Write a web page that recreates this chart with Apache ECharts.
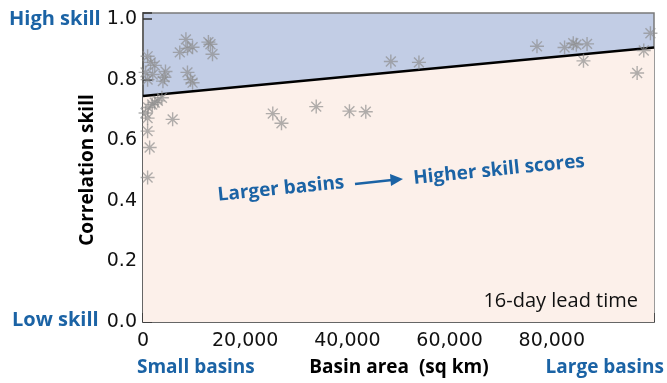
<!DOCTYPE html>
<html>
<head>
<meta charset="utf-8">
<script src="https://cdn.jsdelivr.net/npm/echarts@6/dist/echarts.min.js"></script>
<style>html,body{margin:0;padding:0;background:#fff;}#c{width:667px;height:383px;}</style>
</head>
<body>
<div id="c"></div>
<script>
// Basin area (sq km) and correlation skill for each basin
const basinArea = [
  900, 1500, 2300, 500, 1900, 900, 4400, 4200, 3900, 8400, 7200, 8700, 9700, 12800, 13200, 13600, 8700, 9300, 9700,
  3700, 2900, 2300, 1800, 1000, 500, 900, 5800, 900, 1300, 900,
  25400, 27100, 33900, 40400, 43600, 48500, 54000,
  77100, 82500, 84200, 84800, 86900, 86200, 96700, 98000, 99300
];
const skill = [
  0.877, 0.857, 0.847, 0.824, 0.817, 0.800, 0.827, 0.808, 0.795, 0.933, 0.890, 0.903, 0.907, 0.924, 0.917, 0.884, 0.824, 0.800, 0.790,
  0.740, 0.730, 0.724, 0.718, 0.708, 0.690, 0.673, 0.669, 0.630, 0.576, 0.477,
  0.688, 0.656, 0.711, 0.696, 0.694, 0.860, 0.857,
  0.910, 0.906, 0.920, 0.915, 0.918, 0.862, 0.822, 0.896, 0.953
];
// Fitted trend line end points
const trendArea = [0, 100000];
const trendSkill = [0.746, 0.906];
// Axis ticks
const xTicks = [0, 20000, 40000, 60000, 80000];
const yTicks = [0.0, 0.2, 0.4, 0.6, 0.8, 1.0];

const BLUE = '#1b63a5';
const points = basinArea.map((a, i) => [a, skill[i]]);
const trend = trendArea.map((a, i) => [a, trendSkill[i]]);

const chart = echarts.init(document.getElementById('c'), null, {renderer: 'canvas'});
const numFont = 'DejaVu Sans';
const boldFont = 'Open Sans';

chart.setOption({
  animation: false,
  backgroundColor: '#ffffff',
  grid: {
    left: 143, right: 13, top: 13, bottom: 61,
    show: true, backgroundColor: '#c2cde5', borderColor: '#7a7a7a', borderWidth: 1.5
  },
  xAxis: {
    type: 'value', min: 0, max: 100000, interval: 20000,
    axisLine: {show: true, lineStyle: {color: '#666', width: 2}},
    axisTick: {show: true, inside: true, length: 9, lineStyle: {color: '#333', width: 1.5}},
    axisLabel: {
      margin: 10, fontFamily: numFont, fontSize: 19, color: '#111',
      formatter: v => xTicks.indexOf(v) >= 0 ? v.toLocaleString('en-US') : ''
    },
    splitLine: {show: false}
  },
  yAxis: {
    type: 'value', min: 0, max: 1.02, interval: 0.2,
    axisLine: {show: true, lineStyle: {color: '#666', width: 2}},
    axisTick: {show: true, inside: true, length: 9, lineStyle: {color: '#333', width: 1.5}},
    axisLabel: {
      margin: 6, fontFamily: numFont, fontSize: 19, color: '#111',
      formatter: v => {
        const t = yTicks.find(y => Math.abs(y - v) < 1e-6);
        return t === undefined ? '' : t.toFixed(1);
      }
    },
    splitLine: {show: false}
  },
  series: [
    {
      type: 'line', data: trend, symbol: 'none', z: 2,
      lineStyle: {color: '#000', width: 2.5},
      areaStyle: {color: '#fcf0ea', opacity: 1, origin: 'start'}
    },
    {
      type: 'scatter', data: points, z: 3,
      symbol: 'path://M10,0 L10,20 M0,10 L20,10 M2.93,2.93 L17.07,17.07 M2.93,17.07 L17.07,2.93',
      symbolSize: 14,
      itemStyle: {color: 'rgba(0,0,0,0)', borderColor: 'rgba(140,140,140,0.85)', borderWidth: 1.4}
    }
  ],
  graphic: [
    {type: 'text', z: 100, x: 9, y: 19, style: {text: 'High skill', fill: BLUE, fontFamily: boldFont, fontWeight: 'bold', fontSize: 20, verticalAlign: 'middle'}},
    {type: 'text', z: 100, x: 12, y: 320, style: {text: 'Low skill', fill: BLUE, fontFamily: boldFont, fontWeight: 'bold', fontSize: 20, verticalAlign: 'middle'}},
    {type: 'text', z: 100, x: 88, y: 170, rotation: Math.PI / 2, style: {text: 'Correlation skill', fill: '#000', fontFamily: boldFont, fontWeight: 'bold', fontSize: 19, align: 'center', verticalAlign: 'middle'}},
    {type: 'text', z: 100, x: 137, y: 368, style: {text: 'Small basins', fill: BLUE, fontFamily: boldFont, fontWeight: 'bold', fontSize: 19, verticalAlign: 'middle'}},
    {type: 'text', z: 100, x: 399, y: 368, style: {text: 'Basin area  (sq km)', fill: '#000', fontFamily: boldFont, fontWeight: 'bold', fontSize: 19, align: 'center', verticalAlign: 'middle'}},
    {type: 'text', z: 100, x: 664, y: 368, style: {text: 'Large basins', fill: BLUE, fontFamily: boldFont, fontWeight: 'bold', fontSize: 19, align: 'right', verticalAlign: 'middle'}},
    {type: 'text', z: 100, x: 638, y: 301, style: {text: '16-day lead time', fill: '#111', fontFamily: 'Open Sans', fontSize: 20, align: 'right', verticalAlign: 'middle'}},
    {type: 'text', z: 100, x: 281, y: 189, rotation: 0.1, style: {text: 'Larger basins', fill: BLUE, fontFamily: boldFont, fontWeight: 'bold', fontSize: 19, align: 'center', verticalAlign: 'middle'}},
    {type: 'text', z: 100, x: 499, y: 170, rotation: 0.1, style: {text: 'Higher skill scores', fill: BLUE, fontFamily: boldFont, fontWeight: 'bold', fontSize: 19, align: 'center', verticalAlign: 'middle'}},
    {type: 'line', z: 100, shape: {x1: 355, y1: 184, x2: 392, y2: 180}, style: {stroke: BLUE, lineWidth: 2.5}},
    {type: 'polygon', z: 100, shape: {points: [[390, 174], [403, 179], [391, 186]]}, style: {fill: BLUE}}
  ]
});
</script>
</body>
</html>
